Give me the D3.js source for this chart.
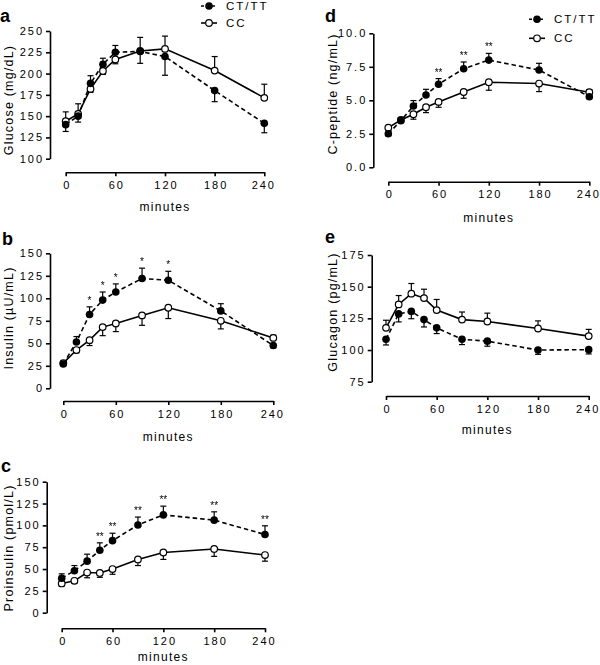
<!DOCTYPE html>
<html>
<head>
<meta charset="utf-8">
<script src="https://cdn.jsdelivr.net/npm/d3@7"></script>
<style>
  body { margin: 0; background: #fff; }
  svg { display: block; font-family: "Liberation Sans", Arial, sans-serif; }
</style>
</head>
<body>
<div id="chart"></div>
<script>
// ---------------- DATA ----------------
const times = [0, 15, 30, 45, 60, 90, 120, 180, 240];
const xTicks = [0, 60, 120, 180, 240];

// a: Glucose (mg/dL)
const glucoseCT    = [140, 150, 188.5, 211, 225, 226, 220, 180, 141.5];
const glucoseCTErr = [8, 7, 9, 7, 8, 14, 22, 13, 11];
const glucoseCC    = [144, 152.5, 182, 203, 216.5, 226.5, 229, 203.5, 171.5];
const glucoseCCErr = [11, 12, 4, 4, 5, 16, 15, 16.5, 16];
const glucoseTicks = [100, 125, 150, 175, 200, 225, 250];
const glucoseStars = ["", "", "", "", "", "", "", "", ""];

// b: Insulin (µU/mL)
const insulinCT    = [27, 51.5, 82, 98, 107, 122, 120, 86, 47.5];
const insulinCTErr = [2, 6, 8.5, 9, 9, 11.5, 10, 8, 2.5];
const insulinCC    = [28, 42.5, 53.5, 68, 72, 81, 89.5, 75, 56];
const insulinCCErr = [2, 3, 6, 9.5, 9, 11, 12, 9, 3];
const insulinTicks = [0, 25, 50, 75, 100, 125, 150];
const insulinStars = ["", "", "*", "*", "*", "*", "*", "", ""];

// c: Proinsulin (pmol/L)
const proinsCT    = [39.5, 48, 59, 71.5, 82.5, 100.5, 112, 106, 89.5];
const proinsCTErr = [5, 6, 8, 8.5, 8.5, 9, 10, 9.5, 10];
const proinsCC    = [33.5, 36.5, 46, 45.5, 50, 61, 69, 73, 66];
const proinsCCErr = [3, 3, 6, 5, 6, 7, 8, 8.5, 7];
const proinsTicks = [0, 25, 50, 75, 100, 125, 150];
const proinsStars = ["", "", "", "**", "**", "**", "**", "**", "**"];

// d: C-peptide (ng/mL)
const cpepCT    = [2.5, 3.48, 4.58, 5.4, 6.2, 7.36, 8.0, 7.26, 5.27];
const cpepCTErr = [0.15, 0.15, 0.4, 0.42, 0.42, 0.5, 0.5, 0.5, 0.15];
const cpepCC    = [2.96, 3.53, 3.96, 4.48, 4.88, 5.62, 6.35, 6.25, 5.6];
const cpepCCErr = [0.15, 0.15, 0.37, 0.4, 0.4, 0.47, 0.6, 0.6, 0.2];
const cpepTicks = [0, 2.5, 5, 7.5, 10];
const cpepStars = ["", "", "", "", "**", "**", "**", "", ""];

// e: Glucagon (pg/mL)
const glucagonCT    = [108.5, 128.5, 130.5, 124, 117.5, 108.5, 107, 100, 100.3];
const glucagonCTErr = [4.5, 6.3, 5.8, 5.8, 4.5, 4.2, 4, 3.4, 3.4];
const glucagonCC    = [117.5, 136, 144.5, 141, 131.5, 124, 122.5, 117, 111];
const glucagonCCErr = [6, 7, 8, 7, 8.4, 6, 6.6, 6, 5.3];
const glucagonTicks = [75, 100, 125, 150, 175];
const glucagonStars = ["", "", "", "", "", "", "", "", ""];

const seriesNames = ["CT/TT", "CC"];

// ---------------- LAYOUT ----------------
const panels = [
  { letter: "a", label: "Glucose (mg/dL)", ct: glucoseCT, ctErr: glucoseCTErr, cc: glucoseCC, ccErr: glucoseCCErr,
    ticks: glucoseTicks, stars: glucoseStars, fmt: d3.format("d"),
    yAxisX: 50, yTop: 31, yBot: 158.7, xAxisY: 172.3, x0: 65.7, x1: 264.3,
    labelX: 9, labelY: 100, letterX: 0, letterY: 22, minutesY: 211, legend: { x: 209, y: 6 } },
  { letter: "b", label: "Insulin (\u00B5U/mL)", ct: insulinCT, ctErr: insulinCTErr, cc: insulinCC, ccErr: insulinCCErr,
    ticks: insulinTicks, stars: insulinStars, fmt: d3.format("d"),
    yAxisX: 50, yTop: 253.3, yBot: 388.3, xAxisY: 401, x0: 63.3, x1: 273.3,
    labelX: 9, labelY: 318, letterX: 2, letterY: 245, minutesY: 441 },
  { letter: "c", label: "Proinsulin (pmol/L)", ct: proinsCT, ctErr: proinsCTErr, cc: proinsCC, ccErr: proinsCCErr,
    ticks: proinsTicks, stars: proinsStars, fmt: d3.format("d"),
    yAxisX: 46.7, yTop: 481.7, yBot: 612.7, xAxisY: 628.3, x0: 61.7, x1: 265,
    labelX: 9, labelY: 548, letterX: 1, letterY: 472, minutesY: 661 },
  { letter: "d", label: "C-peptide (ng/mL)", ct: cpepCT, ctErr: cpepCTErr, cc: cpepCC, ccErr: cpepCCErr,
    ticks: cpepTicks, stars: cpepStars, fmt: d3.format(".1f"),
    yAxisX: 373.3, yTop: 33.3, yBot: 167.3, xAxisY: 181.7, x0: 388.3, x1: 589.3,
    labelX: 333, labelY: 94, letterX: 325, letterY: 22, minutesY: 222, legend: { x: 537, y: 19.3 } },
  { letter: "e", label: "Glucagon (pg/mL)", ct: glucagonCT, ctErr: glucagonCTErr, cc: glucagonCC, ccErr: glucagonCCErr,
    ticks: glucagonTicks, stars: glucagonStars, fmt: d3.format("d"),
    yAxisX: 371.7, yTop: 255, yBot: 381.7, xAxisY: 396, x0: 386, x1: 588.7,
    labelX: 333, labelY: 312, letterX: 325, letterY: 243, minutesY: 434 }
];

const W = 600, H = 665;
const svg = d3.select("#chart").append("svg").attr("width", W).attr("height", H);
// identity filter: forces grayscale rasterisation of the small star glyphs
svg.append("defs").append("filter").attr("id", "gray")
  .append("feColorMatrix").attr("type", "saturate").attr("values", 0);

const R = 3.3, CAP = 3;

panels.forEach(p => {
  const g = svg.append("g");
  const x = d3.scaleLinear().domain([0, 240]).range([p.x0, p.x1]);
  const y = d3.scaleLinear().domain([p.ticks[0], p.ticks[p.ticks.length - 1]]).range([p.yBot, p.yTop]);

  // y axis
  const ya = g.append("g").attr("transform", `translate(${p.yAxisX},0)`)
    .call(d3.axisLeft(y).tickValues(p.ticks).tickFormat(p.fmt).tickSize(4).tickSizeOuter(0).tickPadding(3));
  // x axis
  const xa = g.append("g").attr("transform", `translate(0,${p.xAxisY})`)
    .call(d3.axisBottom(x).tickValues(xTicks).tickSize(4).tickSizeOuter(0).tickPadding(5));
  [ya, xa].forEach(a => {
    a.selectAll("path, line").attr("stroke", "#000").attr("stroke-width", 1.6);
    a.selectAll("text").attr("font-size", 11).attr("fill", "#000")
      .style("letter-spacing", "2px").attr("font-family", "Liberation Sans, Arial, sans-serif");
  });
  xa.selectAll("text").attr("dx", d => d === 240 ? "-1px" : "1px");
  ya.selectAll("text").attr("dx", "1px");

  // labels
  g.append("text").attr("x", p.letterX).attr("y", p.letterY)
    .attr("font-size", 18).attr("font-weight", "bold").attr("fill", "#000").text(p.letter);
  g.append("text")
    .attr("transform", `translate(${p.labelX},${p.labelY}) rotate(-90)`)
    .attr("text-anchor", "middle").attr("dominant-baseline", "central")
    .attr("font-size", 12.5).attr("fill", "#000").style("letter-spacing", "1.2px").text(p.label);
  g.append("text").attr("x", (p.x0 + p.x1) / 2).attr("y", p.minutesY)
    .attr("text-anchor", "middle").attr("font-size", 12).attr("fill", "#000")
    .style("letter-spacing", "1.3px").text("minutes");

  const ct = times.map((t, i) => ({ t, v: p.ct[i], e: p.ctErr[i], s: p.stars[i], other: p.cc[i] }));
  const cc = times.map((t, i) => ({ t, v: p.cc[i], e: p.ccErr[i], other: p.ct[i] }));

  const line = d3.line().x(d => x(d.t)).y(d => y(d.v));
  g.append("path").datum(cc).attr("d", line).attr("fill", "none").attr("stroke", "#000").attr("stroke-width", 1.6);
  g.append("path").datum(ct).attr("d", line).attr("fill", "none").attr("stroke", "#000").attr("stroke-width", 1.6)
    .attr("stroke-dasharray", "4.5,3");

  // error bars: drawn away from the other group
  function errBars(data, isCT) {
    data.forEach(d => {
      const up = isCT ? d.v >= d.other : d.v > d.other;
      const end = up ? d.v + d.e : d.v - d.e;
      g.append("line").attr("x1", x(d.t)).attr("x2", x(d.t)).attr("y1", y(d.v)).attr("y2", y(end))
        .attr("stroke", "#000").attr("stroke-width", 1.2);
      g.append("line").attr("x1", x(d.t) - CAP).attr("x2", x(d.t) + CAP).attr("y1", y(end)).attr("y2", y(end))
        .attr("stroke", "#000").attr("stroke-width", 1.2);
    });
  }
  errBars(cc, false);
  errBars(ct, true);

  g.selectAll(".cc").data(cc).enter().append("circle")
    .attr("cx", d => x(d.t)).attr("cy", d => y(d.v)).attr("r", R)
    .attr("fill", "#fff").attr("stroke", "#000").attr("stroke-width", 1.2);
  g.selectAll(".ct").data(ct).enter().append("circle")
    .attr("cx", d => x(d.t)).attr("cy", d => y(d.v)).attr("r", R + 0.5)
    .attr("fill", "#000");

  // significance stars
  g.append("g").attr("filter", "url(#gray)").selectAll("text").data(ct.filter(d => d.s)).enter().append("text")
    .attr("x", d => x(d.t)).attr("y", d => y(d.v + d.e) - 3)
    .attr("text-anchor", "middle").attr("font-size", 10).attr("fill", "#000").text(d => d.s);

  // legend
  if (p.legend) {
    const L = p.legend;
    [0, 1].forEach(k => {
      const ly = L.y + k * (p.letter === "a" ? 17 : 19);
      g.append("line").attr("x1", L.x - 8).attr("x2", L.x + 8).attr("y1", ly).attr("y2", ly)
        .attr("stroke", "#000").attr("stroke-width", 1.6).attr("stroke-dasharray", k === 0 ? "3,2.5" : null);
      g.append("circle").attr("cx", L.x).attr("cy", ly).attr("r", k === 0 ? R + 0.5 : R)
        .attr("fill", k === 0 ? "#000" : "#fff").attr("stroke", k === 0 ? "none" : "#000").attr("stroke-width", 1.2);
      g.append("text").attr("x", L.x + 17).attr("y", ly).attr("dominant-baseline", "central")
        .attr("font-size", 11.5).attr("fill", "#000").style("letter-spacing", "2px").text(seriesNames[k]);
    });
  }
});
</script>
</body>
</html>
